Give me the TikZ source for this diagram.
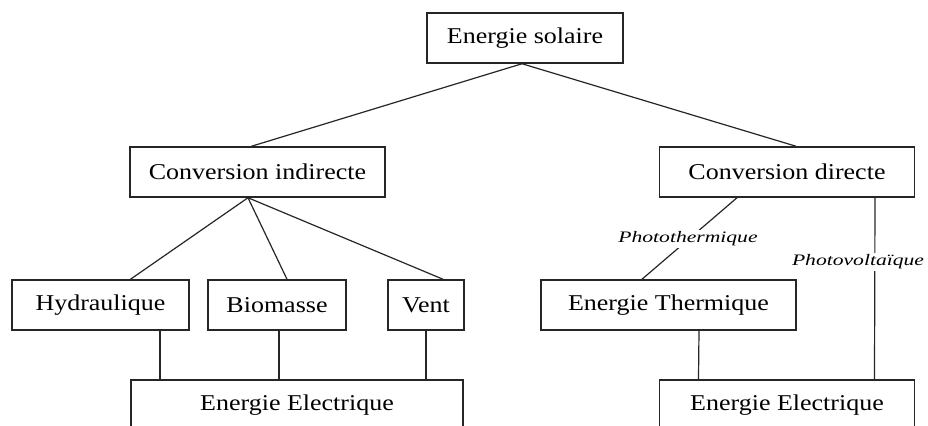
\documentclass[tikz,border=0pt]{standalone}
\usepackage{fontspec}
\setmainfont[FakeStretch=1.15]{Liberation Serif}
\newfontfamily\lblfont[FakeStretch=1.35]{Liberation Serif}
\usepackage{tikz}
\usetikzlibrary{positioning}

\begin{document}
\begin{tikzpicture}[x=0.5pt, y=-0.5pt, on grid,
                    font = \fontsize{11.3}{13}\selectfont,
                    line width = 0.6pt,
                    box/.style = {rectangle,
                                  draw = black!85,
                                  line width = 0.75pt,
                                  text = black,
                                  inner sep = 0pt,
                                  minimum height = 25pt},
                    lbl/.style = {fill = white,
                                  inner sep = 1pt,
                                  text = black,
                                  font = \lblfont\itshape\fontsize{8}{9}\selectfont},
                    link/.style = {draw = black!85}]

\useasboundingbox (0,0) rectangle (928,426);
\fill[white] (0,0) rectangle (928,426);
\clip (0,0) rectangle (928,426);

\node[box, minimum width = 98pt] (sol) at (525,38) {Energie solaire};

\node[box, minimum width = 127.5pt] (ci) at (257.5,172) {Conversion indirecte};
\node[box, minimum width = 127.5pt] (cd) [right = 264.75pt of ci] {Conversion directe};

\node[box, minimum width = 88.5pt] (hyd) at (100.5,305) {Hydraulique};
\node[box, minimum width = 69pt] (bio) [right = 88.25pt of hyd] {Biomasse};
\node[box, minimum width = 38pt] (vent) [right = 74.5pt of bio] {Vent};
\node[box, minimum width = 127.5pt] (th) [right = 121.25pt of vent] {Energie Thermique};

\node[box, minimum width = 166pt] (eeL) at (297,405) {Energie Electrique};
\node[box, minimum width = 127.5pt] (eeR) [below = 116.5pt of cd] {Energie Electrique};

% solaire
\draw[link] ([xshift=-1.5pt]sol.south) -- ([xshift=-3pt]ci.north);
\draw[link] ([xshift=-1.5pt]sol.south) -- ([xshift=4.5pt]cd.north);

% indirecte
\coordinate (ciB) at ([xshift=-4.75pt]ci.south);
\draw[link] (ciB) -- ([xshift=15pt]hyd.north);
\draw[link] (ciB) -- ([xshift=5pt]bio.north);
\draw[link] (ciB) -- ([xshift=8.5pt]vent.north);

\draw[link] ([xshift=29.75pt]hyd.south) -- ([xshift=-68.5pt]eeL.north);
\draw[link] ([xshift=1pt]bio.south) -- ([xshift=-9pt]eeL.north);
\draw[link] (vent.south) -- ([xshift=64.5pt]eeL.north);

% directe
\draw[link] ([xshift=-25pt]cd.south) -- ([xshift=-13.25pt]th.north);
\draw[link] ([xshift=44pt]cd.south) -- ([xshift=43.75pt]eeR.north);
\draw[link] ([xshift=15.25pt]th.south) -- ([xshift=-44.25pt]eeR.north);

\node[lbl] (pth) at (688,239) {Photothermique};
\node[lbl] (pv) at (858,262) {Photovolta\"ique};

\end{tikzpicture}
\end{document}
